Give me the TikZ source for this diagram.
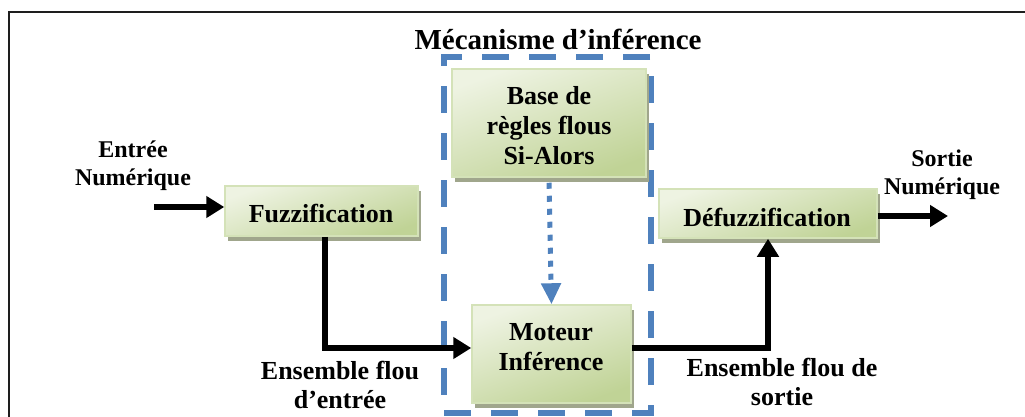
\documentclass[tikz,border=0pt]{standalone}
\usepackage{fontspec}
\setmainfont{Liberation Serif}
\usetikzlibrary{arrows.meta,shadows}
\definecolor{boxlight}{RGB}{238,243,226}
\definecolor{boxdark}{RGB}{192,211,150}
\definecolor{boxborder}{RGB}{212,226,184}
\definecolor{shadowc}{RGB}{160,166,140}
\definecolor{dashblue}{RGB}{79,129,189}
\definecolor{framec}{RGB}{30,30,30}
\begin{document}
\begin{tikzpicture}[x=1pt,y=-1pt,
  fbox/.style={draw=boxborder, line width=1.5pt, top color=boxlight, bottom color=boxdark, shading angle=20,
    drop shadow={shadow xshift=3pt, shadow yshift=-5pt, fill=shadowc, opacity=1}, inner sep=0pt},
  boxtext/.style={font=\bfseries\fontsize{26}{30}\selectfont, align=center, inner sep=0pt},
  lbl/.style={font=\bfseries\fontsize{26}{29}\selectfont, align=center, inner sep=0pt},
  smalllbl/.style={font=\bfseries\fontsize{24}{28}\selectfont, align=center, inner sep=0pt},
  titlelbl/.style={font=\bfseries\fontsize{29}{33}\selectfont, inner sep=0pt},
  flow/.style={line width=6pt, draw=black, -{Triangle[length=18pt,width=21pt]}},
  dotflow/.style={line width=5pt, draw=dashblue, dash pattern=on 6pt off 7pt, -{Triangle[length=21pt,width=19pt,fill=dashblue]}},
  dashbox/.style={draw=dashblue, line width=6pt, dash pattern=on 27pt off 20pt, inner sep=0pt}
]
\useasboundingbox (0,0) rectangle (1025,416);
\clip (0,0) rectangle (1025,416);
% outer frame
\draw[framec, line width=2.5pt] (9,430) -- (9,12) -- (1040,12);
% title
\node[titlelbl] (title) at (558,39) {Mécanisme d’inférence};
% dashed inference box
\node[dashbox, minimum width=207pt, minimum height=356pt] (inf) at (547.5,235) {};
% boxes
\node[fbox, minimum width=193pt, minimum height=50pt] (fuzz) at (321.5,211) {};
\node[fbox, minimum width=194pt, minimum height=108pt] (base) at (549,123) {};
\node[fbox, minimum width=159pt, minimum height=98pt] (mot) at (551.5,354) {};
\node[fbox, minimum width=218pt, minimum height=49pt] (defuzz) at (768,213.5) {};
% box texts
\node[boxtext] (fuzzt) at (321,213) {Fuzzification};
\node[boxtext] (baset) at (549,125.5) {Base de\\règles flous\\Si-Alors};
\node[boxtext] (mott) at (551,347.5) {Moteur\\Inférence};
\node[boxtext] (defuzzt) at (767,217) {Défuzzification};
% labels
\node[smalllbl] (inl) at (133,166) {Entrée\\Numérique};
\node[smalllbl] (outl) at (942,174.5) {Sortie\\Numérique};
\node[lbl] (ens1) at (340,385) {Ensemble flou\\d’entrée};
\node[lbl] (ens2) at (782,382) {Ensemble flou de\\sortie};
% connectors
\coordinate (in) at (154,207);
\coordinate (out) at (948,216);
\draw[flow] (in) -- ([yshift=4pt]fuzz.west);
\draw[flow] ([yshift=-2.5pt]defuzz.east) -- (out);
\draw[flow] ([xshift=3.5pt]fuzz.south) |- ([yshift=6pt]mot.west);
\draw[flow] ([yshift=6pt]mot.east) -| (defuzz.south);
\draw[dotflow] ([yshift=-5pt]base.south) -- (mot.north);
\end{tikzpicture}
\end{document}
